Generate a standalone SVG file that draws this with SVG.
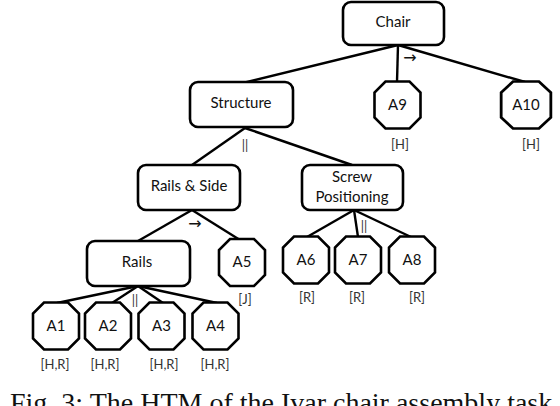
<svg xmlns="http://www.w3.org/2000/svg" xmlns:xlink="http://www.w3.org/1999/xlink" width="560" height="406" viewBox="0 0 560 406">
<style>
.box{fill:#fff;stroke:#000;stroke-width:2.6}
.oct{fill:#fff;stroke:#000;stroke-width:2.6;stroke-linejoin:miter}
.lbl{font-family:Lato,"Liberation Sans",sans-serif;font-size:15px;fill:#111;text-anchor:middle}
.sm{font-family:Lato,"Liberation Sans",sans-serif;font-size:13px;fill:#333;text-anchor:middle}
.arr{font-family:"DejaVu Sans",sans-serif;font-size:16px;fill:#111;text-anchor:middle}
.cap{font-family:"Liberation Serif","Times New Roman",serif;font-size:28px;fill:#111}
#conn line{stroke:#000;stroke-width:2.4}
</style>
<defs>
<polygon id="octshape" points="-12,-23.5 12,-23.5 23,-12.5 23,12.5 12,23.5 -12,23.5 -23,12.5 -23,-12.5"/>
</defs>
<rect width="560" height="406" fill="#fff"/>
<g id="conn">
<line x1="398" y1="45" x2="243" y2="83"/>
<line x1="398" y1="45" x2="397" y2="82"/>
<line x1="398" y1="45" x2="525" y2="82"/>
<line x1="245" y1="128" x2="192" y2="165"/>
<line x1="245" y1="128" x2="352" y2="165"/>
<line x1="192" y1="210" x2="138" y2="241"/>
<line x1="192" y1="210" x2="240" y2="240"/>
<line x1="354" y1="210" x2="307" y2="237"/>
<line x1="354" y1="210" x2="358" y2="237"/>
<line x1="354" y1="210" x2="411" y2="237"/>
<line x1="138" y1="286" x2="57" y2="303"/>
<line x1="138" y1="286" x2="112" y2="303"/>
<line x1="138" y1="286" x2="163" y2="303"/>
<line x1="138" y1="286" x2="217" y2="303"/>
</g>
<g id="chair"><rect class="box" x="343" y="2" width="101" height="43" rx="8"/><text class="lbl" x="393" y="27">Chair</text></g>
<g id="structure"><rect class="box" x="190" y="82" width="103" height="45" rx="8"/><text class="lbl" x="241" y="108">Structure</text></g>
<g id="a9"><use xlink:href="#octshape" class="oct" x="397.5" y="105"/><text class="lbl" x="397.5" y="110">A9</text><text class="sm" x="400" y="149">[H]</text></g>
<g id="a10"><use xlink:href="#octshape" class="oct" transform="translate(526,105) scale(1.08,1)"/><text class="lbl" x="526" y="110">A10</text><text class="sm" x="531" y="149">[H]</text></g>
<g id="railsside"><rect class="box" x="138" y="165" width="102" height="45" rx="8"/><text class="lbl" x="189" y="191">Rails &amp; Side</text></g>
<g id="screw"><rect class="box" x="302" y="165" width="101" height="45" rx="8"/><text class="lbl" x="352" y="182">Screw</text><text class="lbl" x="352" y="202">Positioning</text></g>
<g id="rails"><rect class="box" x="87" y="241" width="103" height="45" rx="8"/><text class="lbl" x="137" y="267">Rails</text></g>
<g id="a5"><use xlink:href="#octshape" class="oct" x="242" y="262.5"/><text class="lbl" x="242" y="267">A5</text><text class="sm" x="245" y="304">[J]</text></g>
<g id="a6"><use xlink:href="#octshape" class="oct" x="306" y="260"/><text class="lbl" x="306" y="265">A6</text><text class="sm" x="307" y="302">[R]</text></g>
<g id="a7"><use xlink:href="#octshape" class="oct" x="358" y="260"/><text class="lbl" x="358" y="265">A7</text><text class="sm" x="357" y="302">[R]</text></g>
<g id="a8"><use xlink:href="#octshape" class="oct" x="412" y="260"/><text class="lbl" x="412" y="265">A8</text><text class="sm" x="417" y="302">[R]</text></g>
<g id="a1"><use xlink:href="#octshape" class="oct" x="56" y="326"/><text class="lbl" x="56" y="331">A1</text><text class="sm" x="55" y="369">[H,R]</text></g>
<g id="a2"><use xlink:href="#octshape" class="oct" x="108" y="326"/><text class="lbl" x="108" y="331">A2</text><text class="sm" x="105" y="369">[H,R]</text></g>
<g id="a3"><use xlink:href="#octshape" class="oct" x="161.5" y="326"/><text class="lbl" x="161.5" y="331">A3</text><text class="sm" x="164" y="369">[H,R]</text></g>
<g id="a4"><use xlink:href="#octshape" class="oct" x="215.5" y="326"/><text class="lbl" x="215.5" y="331">A4</text><text class="sm" x="215" y="369">[H,R]</text></g>
<g id="ops">
<text class="arr" x="410" y="63">→</text>
<text class="sm" x="245" y="150">||</text>
<text class="arr" x="195" y="229">→</text>
<text class="sm" x="364" y="231">||</text>
<text class="sm" x="135" y="305">||</text>
</g>
<text class="cap" x="10" y="412">Fig. 3: The HTM of the Ivar chair assembly task</text>
</svg>
